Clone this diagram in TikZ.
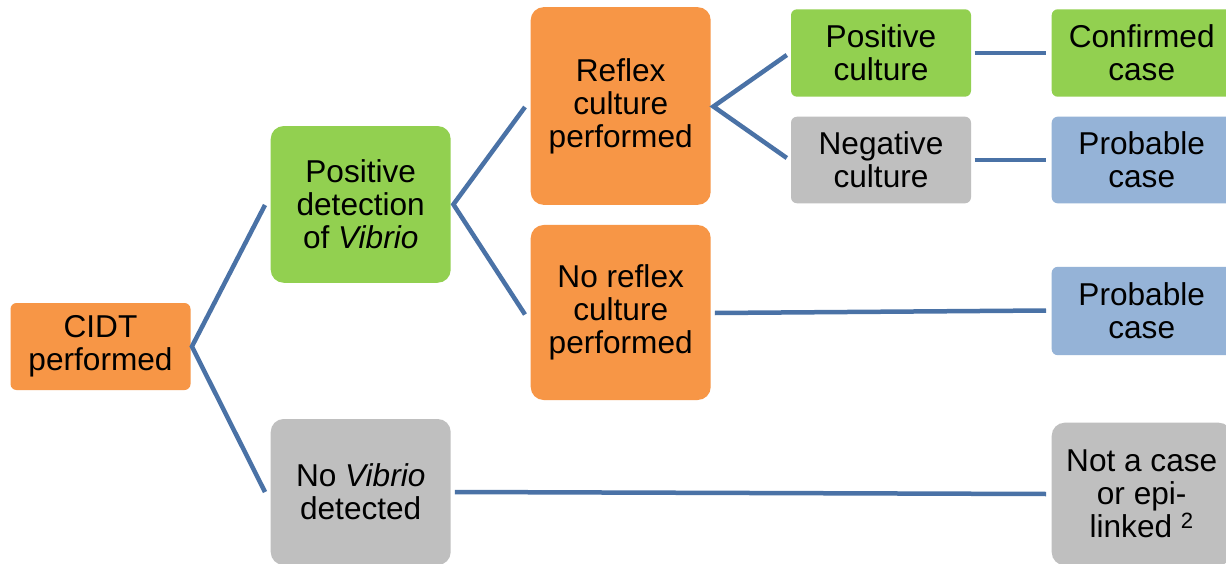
\documentclass[tikz,border=0pt]{standalone}
\usepackage{fontspec}
\setmainfont{Liberation Sans}
\usetikzlibrary{calc}
\definecolor{cOrange}{HTML}{F79646}
\definecolor{cGreen}{HTML}{92D050}
\definecolor{cGray}{HTML}{BFBFBF}
\definecolor{cBlue}{HTML}{95B3D7}
\definecolor{cLine}{HTML}{4A72A6}
\tikzset{
  box/.style={rectangle, align=center, inner sep=0pt, minimum width=180pt,
    font=\fontsize{31.6}{33}\selectfont, text=black},
  smallr/.style={rounded corners=6pt},
  bigr/.style={rounded corners=13pt},
  link/.style={draw=cLine, line width=4.5pt},
}
\begin{document}
\begin{tikzpicture}[x=1pt,y=-1pt]
\useasboundingbox (0,0) rectangle (1226,564);
\clip (0,0) rectangle (1226,564);
\fill[white] (0,0) rectangle (1226,564);

\node[box, smallr, fill=cOrange, minimum height=87pt] (cidt) at (100.5,346.5) {CIDT\\performed};
\node[box, bigr, fill=cGreen, minimum height=156.7pt] (posdet) at (360.7,204.4) {Positive\\detection\\of \textit{Vibrio}};
\node[box, bigr, fill=cGray, minimum height=146pt] (novib) at (360.7,492) {No \textit{Vibrio}\\detected};
\node[box, bigr, fill=cOrange, minimum height=197.7pt] (reflex) at (620.7,106) {Reflex\\culture\\performed};
\node[box, bigr, fill=cOrange, minimum height=175pt] (noreflex) at (620.7,312.5) {No reflex\\culture\\performed};
\node[box, smallr, fill=cGreen, minimum height=87.4pt] (poscult) at (881,53) {Positive\\culture};
\node[box, smallr, fill=cGray, minimum height=86.6pt] (negcult) at (881,160) {Negative\\culture};
\node[box, smallr, fill=cGreen, minimum height=87.4pt] (confirmed) at (1141.7,53) {Confirmed\\case};
\node[box, smallr, fill=cBlue, minimum height=86.6pt] (prob1) at (1141.7,160) {Probable\\case};
\node[box, smallr, fill=cBlue, minimum height=88.3pt] (prob2) at (1141.7,311) {Probable\\case};
\node[box, bigr, fill=cGray, minimum height=142.6pt] (notcase) at (1141.7,494) {Not a case\\or epi-\\linked \textsuperscript{2}};

\draw[link] ($(posdet.west)+(-5.5,0.6)$) -- ($(cidt.east)+(1.2,0)$) -- ($(novib.west)+(-5.5,0)$);
\draw[link] ($(reflex.west)+(-5.5,1)$) -- ($(posdet.east)+(2.5,0)$) -- ($(noreflex.west)+(-5.5,2)$);
\draw[link] ($(poscult.west)+(-4,2)$) -- ($(reflex.east)+(2.5,0.5)$) -- ($(negcult.west)+(-4,-2)$);
\draw[link] ($(poscult.east)+(3.5,0)$) -- ($(confirmed.west)+(-5.5,0)$);
\draw[link] ($(negcult.east)+(3.5,0)$) -- ($(prob1.west)+(-5.5,0)$);
\draw[link] ($(noreflex.east)+(4,0.5)$) -- ($(prob2.west)+(-5.5,-0.5)$);
\draw[link] ($(novib.east)+(4,0)$) -- ($(notcase.west)+(-5.5,0)$);
\end{tikzpicture}
\end{document}
